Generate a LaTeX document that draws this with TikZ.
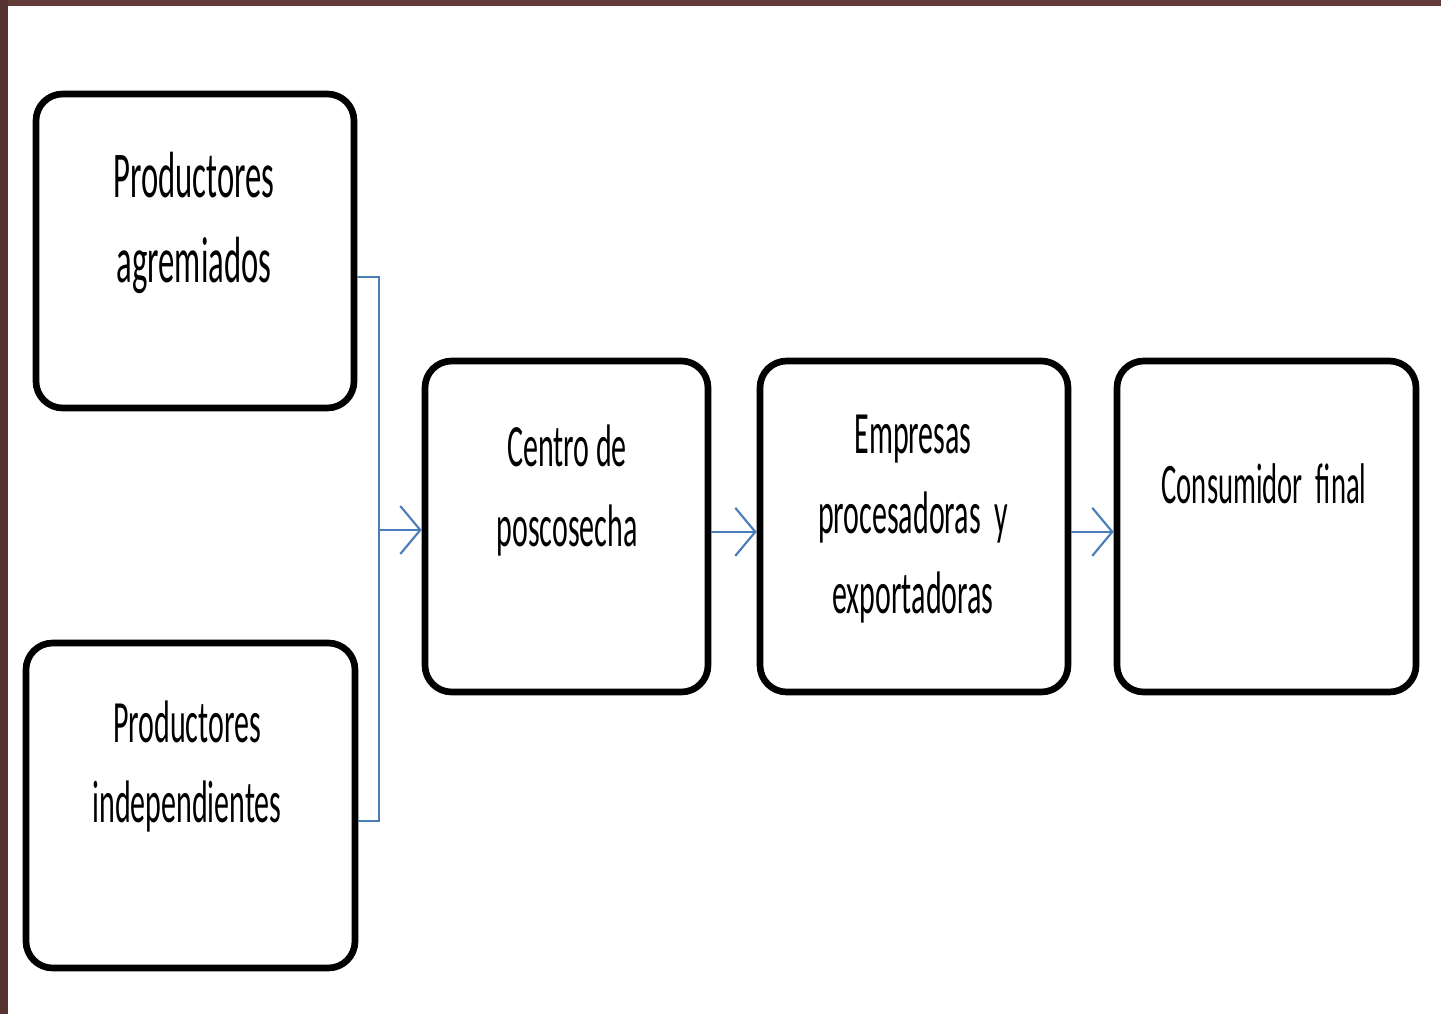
\documentclass[tikz,border=0pt]{standalone}
\usepackage{fontspec}
\setmainfont{Carlito}[FakeStretch=0.5]
\usetikzlibrary{arrows.meta}
\definecolor{frameBrown}{RGB}{98,58,55}
\definecolor{linkBlue}{RGB}{74,126,187}

\begin{document}
\begin{tikzpicture}[x=0.75pt,y=0.75pt,yscale=-1,xscale=1,
  stage/.style={draw=black,line width=5pt,rounded corners=20pt,inner sep=0pt},
  lbl/.style={align=center,inner sep=0pt,font=\fontsize{45}{60}\selectfont},
  link/.style={draw=linkBlue,line width=1.6pt},
  flow/.style={link,-{Straight Barb[length=15pt,width=36pt,line width=1.6pt]}}]
\useasboundingbox (0,0) rectangle (1441,1014);

%Shape: Frame
\fill[frameBrown] (0,0) rectangle (1441,6);
\fill[frameBrown!90!black] (0,0) rectangle (8,1014);

%Rounded Rect: stages
\node[stage,minimum width=238.5pt,minimum height=235.5pt] (agrem) at (195,251) {};
\node[stage,minimum width=246.75pt,minimum height=243.75pt] (indep) at (190.5,805.5) {};
\node[stage,minimum width=212.25pt,minimum height=248.25pt] (centro) at (566.5,526.5) {};
\node[stage,minimum width=231pt,minimum height=248.25pt] (empresas) at (914,526.5) {};
\node[stage,minimum width=224.25pt,minimum height=248.25pt] (consumo) at (1266.5,526.5) {};

%Text labels
\node[lbl,font=\fontsize{49}{64}\selectfont] (agremT) at (194,223) {Productores\\agremiados};
\node[lbl] (indepT) at (187,766) {Productores\\independientes};
\node[lbl] (centroT) at (567,490) {Centro de\\poscosecha};
\node[lbl] (empresasT) at (913,519) {Empresas\\procesadoras\ \ y\\exportadoras};
\node[lbl,font=\fontsize{43}{60}\selectfont] (consumoT) at (1264,484) {Consumidor\ \ final};

%Straight Lines: bracket joining both producers
\coordinate (bus) at (379,530);
\draw[link] ([yshift=19.5pt]agrem.east) -| (bus) |- ([yshift=11.6pt]indep.east);
\draw[flow] (bus) -- (bus -| centro.west);
\draw[flow] ([yshift=4pt]centro.east) -- ([yshift=4pt]empresas.west);
\draw[flow] ([yshift=4pt]empresas.east) -- ([yshift=4pt]consumo.west);
\end{tikzpicture}
\end{document}
